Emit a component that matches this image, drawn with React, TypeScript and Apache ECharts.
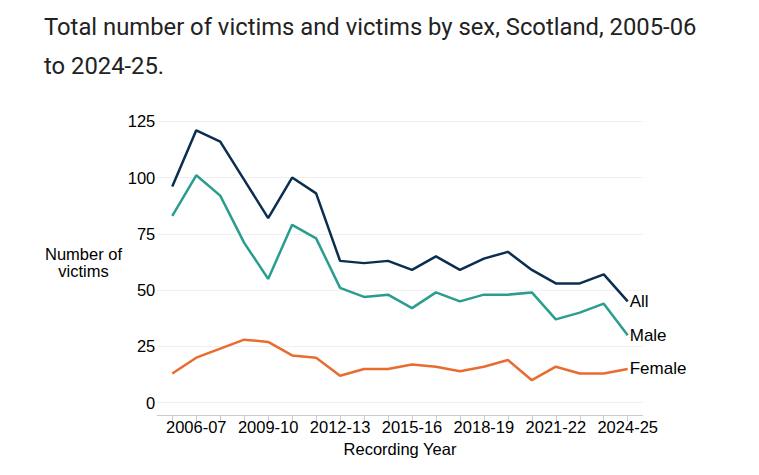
import React, { useEffect, useRef } from "react";
import * as echarts from "echarts";

const years = [
  "2005-06", "2006-07", "2007-08", "2008-09", "2009-10", "2010-11", "2011-12",
  "2012-13", "2013-14", "2014-15", "2015-16", "2016-17", "2017-18", "2018-19",
  "2019-20", "2020-21", "2021-22", "2022-23", "2023-24", "2024-25",
];
const allVictims = [96, 121, 116, 99, 82, 100, 93, 63, 62, 63, 59, 65, 59, 64, 67, 59, 53, 53, 57, 45];
const maleVictims = [83, 101, 92, 71, 55, 79, 73, 51, 47, 48, 42, 49, 45, 48, 48, 49, 37, 40, 44, 30];
const femaleVictims = [13, 20, 24, 28, 27, 21, 20, 12, 15, 15, 17, 16, 14, 16, 19, 10, 16, 13, 13, 15];
const yTicks = [0, 25, 50, 75, 100, 125];
const xLabelIdx = [1, 4, 7, 10, 13, 16, 19];

const FONT = "'Liberation Sans', Arial, sans-serif";

export default function App() {
  const ref = useRef<HTMLDivElement>(null);
  useEffect(() => {
    if (!ref.current) return;
    const chart = echarts.init(ref.current, undefined, { renderer: "svg" });
    const mk = (name: string, vals: number[], color: string) => ({
      name,
      type: "line",
      data: vals.map((v, i) => [i, v]),
      showSymbol: false,
      symbol: "none",
      lineStyle: { color, width: 2.5 },
      itemStyle: { color },
      endLabel: {
        show: true,
        formatter: name,
        distance: 2,
        color: "#000",
        fontFamily: FONT,
        fontSize: 17,
      },
    });
    chart.setOption({
      animation: false,
      title: {
        text: "Total number of victims and victims by sex, Scotland, 2005-06\nto 2024-25.",
        left: 44,
        top: 7,
        padding: 0,
        textStyle: {
          fontFamily: "Roboto",
          fontSize: 23.8,
          fontWeight: "normal",
          color: "#222",
          lineHeight: 39,
        },
      },
      grid: { left: 157.3, right: 116.3, top: 121.3, bottom: 72.3 },
      xAxis: {
        type: "value",
        min: -0.625,
        max: 19.625,
        offset: 13,
        name: "Recording Year",
        nameLocation: "middle",
        nameGap: 20,
        nameTextStyle: { fontFamily: FONT, fontSize: 16.5, color: "#000" },
        axisLine: { show: true, onZero: false, lineStyle: { color: "#cccccc", width: 1 } },
        axisTick: {
          show: true,
          customValues: years.map((_, i) => i),
          length: 6,
          lineStyle: { color: "#cccccc" },
        },
        axisLabel: {
          customValues: xLabelIdx,
          formatter: (v: number) => years[Math.round(v)] ?? "",
          fontFamily: FONT,
          fontSize: 16.5,
          color: "#000",
          margin: 3,
        },
        splitLine: { show: false },
      },
      yAxis: {
        type: "value",
        min: 0,
        max: 125,
        interval: 25,
        axisLine: { show: false },
        axisTick: { show: false },
        axisLabel: {
          customValues: yTicks,
          fontFamily: FONT,
          fontSize: 16.5,
          color: "#000",
          margin: 2,
        },
        splitLine: { show: true, lineStyle: { color: "#f0f0f0", width: 1 } },
      },
      graphic: [
        {
          type: "text",
          left: 85 - 40,
          top: 245,
          style: {
            text: "Number of\nvictims",
            x: 40,
            textAlign: "center",
            fontFamily: FONT,
            fontSize: 16.5,
            lineHeight: 17,
            fill: "#000",
          },
        },
      ],
      series: [
        mk("All", allVictims, "#0b2e50"),
        mk("Male", maleVictims, "#2a9d8f"),
        mk("Female", femaleVictims, "#e96c2f"),
      ],
    });
    return () => chart.dispose();
  }, []);
  return (
    <div
      ref={ref}
      style={{ position: "fixed", left: 0, top: 0, width: 759, height: 475, background: "#fff" }}
    />
  );
}
